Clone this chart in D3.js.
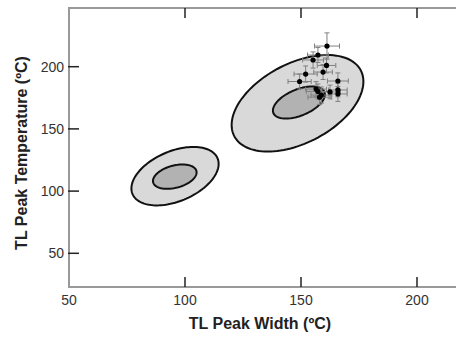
<!DOCTYPE html>
<html><head><meta charset="utf-8">
<script src="https://cdn.jsdelivr.net/npm/d3@7"></script>
<style>html,body{margin:0;padding:0;background:#fff;overflow:hidden}svg{display:block}</style>
</head><body>
<svg id="c" width="456" height="337"></svg>
<script>
// ---- data ----
const xTicks = [50, 100, 150, 200];
const yTicks = [50, 100, 150, 200];
// confidence ellipses: centre, half-extent along x and y, correlation
const ellCx  = [95.7, 95.6, 148.5, 149.1];
const ellCy  = [112.0, 111.6, 170.6, 171.2];
const ellRx  = [18.8, 9.4, 28.4, 11.2];
const ellRy  = [23.5, 9.8, 38.8, 12.9];
const ellRho = [0.42, 0.35, 0.45, 0.5];
const ellKind = ["outer", "inner", "outer", "inner"];
// sample points with error bars
const ptX    = [161.2, 157.3, 155.2, 161.0, 152.0, 159.5, 149.4, 165.9, 157.3, 158.8, 165.9, 165.9, 162.5, 156.5, 158.0];
const ptY    = [216.6, 209.4, 205.4, 201.0, 194.1, 195.7, 188.1, 188.5, 180.1, 177.2, 181.3, 178.1, 179.7, 182.0, 175.5];
const ptXErr = [5.4, 4.5, 4.5, 4.0, 5.0, 4.0, 5.0, 4.5, 5.0, 4.5, 4.0, 4.0, 4.5, 4.5, 5.0];
const ptYErr = [10.6, 6.0, 6.5, 6.0, 6.5, 6.0, 6.0, 6.5, 6.0, 6.5, 5.5, 6.0, 5.5, 6.0, 6.0];

// ---- chart ----
(function () {
const svg = d3.select("#c");
const x = d3.scaleLinear().domain([50, 200]).range([69, 417]);
const y = d3.scaleLinear().domain([50, 200]).range([253.3, 66.7]);
const fTop = 8, fBottom = 287, fLeft = 69, fRight = 480;

// ellipses
const line = d3.line().curve(d3.curveLinearClosed);
const N = 120;
ellCx.forEach((cx, i) => {
  const d = Math.acos(ellRho[i]);
  const pts = d3.range(N).map(k => {
    const t = 2 * Math.PI * k / N;
    return [x(cx + ellRx[i] * Math.cos(t)), y(ellCy[i] + ellRy[i] * Math.cos(t - d))];
  });
  svg.append("path").attr("d", line(pts))
    .attr("fill", ellKind[i] === "outer" ? "#d9d9d9" : "#b2b2b2")
    .attr("stroke", "#111").attr("stroke-width", 2);
});

// error bars
const g = svg.append("g");
const cap = 2.5;
ptX.forEach((px, i) => {
  const cx = x(px), cy = y(ptY[i]);
  const x0 = x(px - ptXErr[i]), x1 = x(px + ptXErr[i]);
  const y0 = y(ptY[i] - ptYErr[i]), y1 = y(ptY[i] + ptYErr[i]);
  const s = "#808080";
  g.append("line").attr("x1", x0).attr("x2", x1).attr("y1", cy).attr("y2", cy).attr("stroke", s);
  g.append("line").attr("x1", x0).attr("x2", x0).attr("y1", cy - cap).attr("y2", cy + cap).attr("stroke", s);
  g.append("line").attr("x1", x1).attr("x2", x1).attr("y1", cy - cap).attr("y2", cy + cap).attr("stroke", s);
  g.append("line").attr("x1", cx).attr("x2", cx).attr("y1", y0).attr("y2", y1).attr("stroke", s);
  g.append("line").attr("x1", cx - cap).attr("x2", cx + cap).attr("y1", y0).attr("y2", y0).attr("stroke", s);
  g.append("line").attr("x1", cx - cap).attr("x2", cx + cap).attr("y1", y1).attr("y2", y1).attr("stroke", s);
});
g.selectAll("circle").data(ptX).join("circle")
  .attr("cx", d => x(d)).attr("cy", (d, i) => y(ptY[i])).attr("r", 2.6).attr("fill", "#000");

// frame
svg.append("path").attr("d", `M${fRight},${fTop}H${fLeft}V${fBottom}H${fRight}`)
  .attr("fill", "none").attr("stroke", "#999").attr("stroke-width", 2);

// ticks (inward)
xTicks.filter(v => v > 50).forEach(v => {
  svg.append("line").attr("x1", x(v)).attr("x2", x(v)).attr("y1", fBottom).attr("y2", fBottom - 10).attr("stroke", "#222").attr("stroke-width", 1.5);
  svg.append("line").attr("x1", x(v)).attr("x2", x(v)).attr("y1", fTop).attr("y2", fTop + 10).attr("stroke", "#222").attr("stroke-width", 1.5);
});
yTicks.forEach(v => {
  svg.append("line").attr("x1", fLeft - 1).attr("x2", fLeft + 10).attr("y1", y(v)).attr("y2", y(v)).attr("stroke", "#222").attr("stroke-width", 1.5);
});

// tick labels
const font = "Liberation Sans, Arial, sans-serif";
xTicks.forEach(v => {
  svg.append("text").attr("x", x(v)).attr("y", 305).attr("text-anchor", "middle")
    .attr("font-family", font).attr("font-size", 14).attr("fill", "#333").text(v);
});
yTicks.forEach(v => {
  svg.append("text").attr("x", 64).attr("y", y(v) + 5).attr("text-anchor", "end")
    .attr("font-family", font).attr("font-size", 14).attr("fill", "#333").text(v);
});

// axis titles
svg.append("text").attr("x", 260).attr("y", 329).attr("text-anchor", "middle")
  .attr("font-family", font).attr("font-weight", "bold").attr("font-size", 16).attr("fill", "#222")
  .text("TL Peak Width (ºC)");
svg.append("text").attr("transform", "translate(27,153) rotate(-90)").attr("text-anchor", "middle")
  .attr("font-family", font).attr("font-weight", "bold").attr("font-size", 16).attr("fill", "#222")
  .text("TL Peak Temperature (ºC)");
})();
</script>
</body></html>
